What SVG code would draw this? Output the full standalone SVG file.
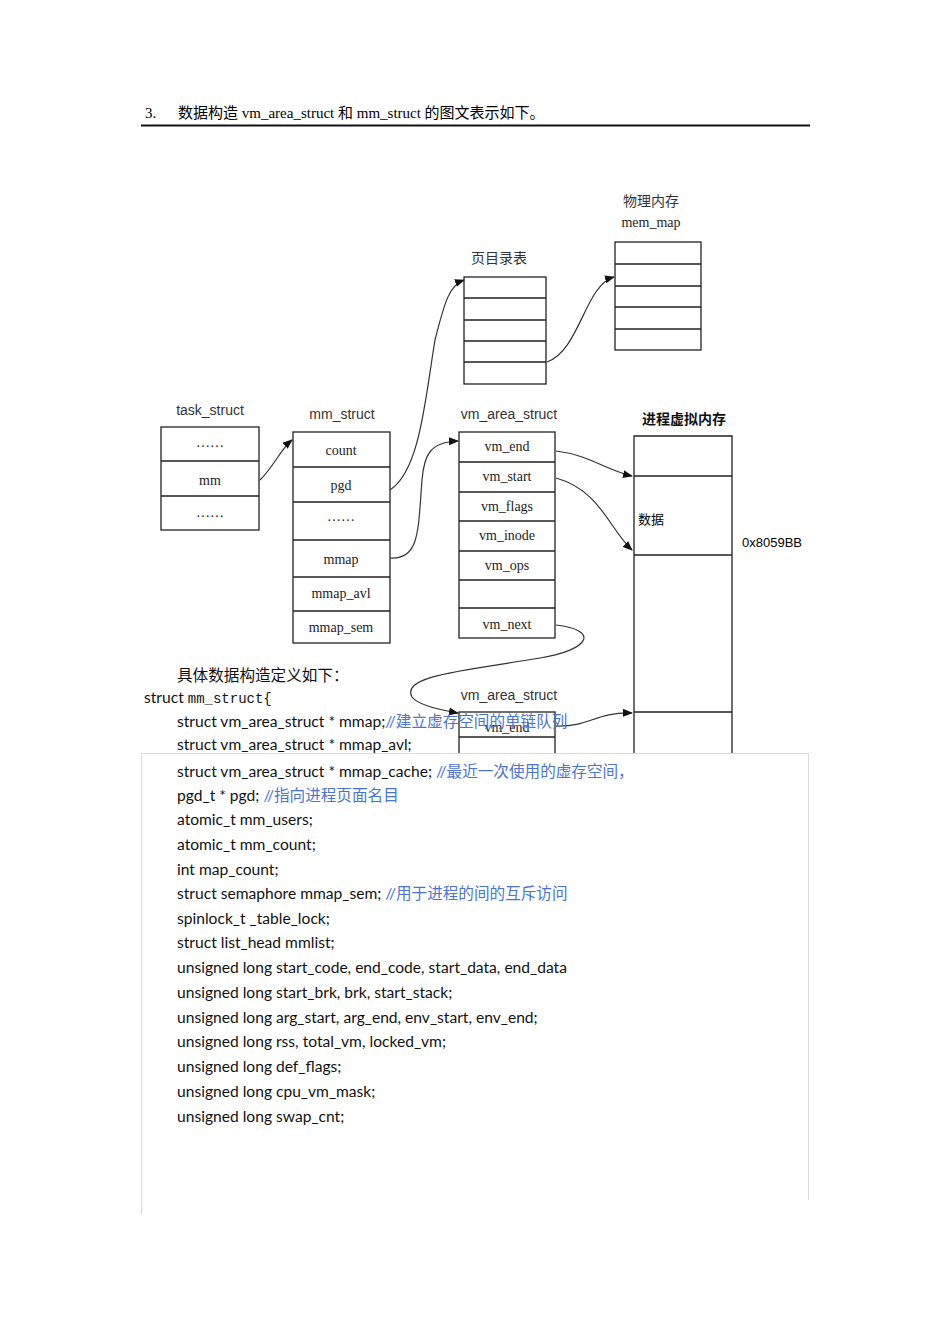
<svg xmlns="http://www.w3.org/2000/svg" width="950" height="1344" viewBox="0 0 950 1344">
<defs>
<style>
.b{fill:#fff;stroke:#222;stroke-width:1.3}
.l{stroke:#222;stroke-width:1.3}
.t{font-family:"Liberation Serif",serif;font-size:14px;fill:#222;text-anchor:middle}
.h{font-family:"Liberation Sans",sans-serif;font-size:14px;fill:#333;text-anchor:middle}
.c{fill:none;stroke:#333;stroke-width:1.2}
.x{font-family:Lato,"Noto Sans CJK SC",sans-serif;font-size:15.6px;fill:#111}
.cm{fill:#4a74d0}
</style>
<marker id="a" markerWidth="10" markerHeight="8" refX="9" refY="4" orient="auto" markerUnits="userSpaceOnUse"><path d="M0,0L10,4L0,8z" fill="#111"/></marker>
</defs>
<g style="font-family:'Liberation Serif','Noto Sans CJK SC',serif;font-size:15px">
<text x="145" y="118">3.</text>
<text x="178" y="118">数据构造 vm_area_struct  和  mm_struct  的图文表示如下。</text>
</g>
<line x1="141" y1="125.5" x2="810" y2="125.5" stroke="#111" stroke-width="2"/>
<g id="phys"><text class="h" x="651" y="206" style="font-family:'Noto Sans CJK SC',sans-serif">物理内存</text><text class="t" x="651" y="227">mem_map</text>
<rect class="b" x="615" y="242" width="86" height="108"/><path class="l" d="M615 264H701M615 286H701M615 307H701M615 329H701"/></g>
<g id="pgdir"><text class="h" x="499" y="263" style="font-family:'Noto Sans CJK SC',sans-serif">页目录表</text>
<rect class="b" x="464" y="277" width="82" height="107"/><path class="l" d="M464 298H546M464 320H546M464 341H546M464 362H546"/></g>
<g id="task"><text class="h" x="210" y="415">task_struct</text><rect class="b" x="161" y="427" width="98" height="103"/><path class="l" d="M161 461H259M161 496H259"/>
<text class="t" x="210" y="447">……</text><text class="t" x="210" y="485">mm</text><text class="t" x="210" y="517">……</text></g>
<g id="mm"><text class="h" x="342" y="419">mm_struct</text><rect class="b" x="293" y="432" width="97" height="211"/><path class="l" d="M293 467H390M293 502H390M293 540H390M293 577H390M293 611H390"/>
<text class="t" x="341" y="455">count</text><text class="t" x="341" y="490">pgd</text><text class="t" x="341" y="521">……</text><text class="t" x="341" y="564">mmap</text><text class="t" x="341" y="598">mmap_avl</text><text class="t" x="341" y="632">mmap_sem</text></g>
<g id="vma1"><text class="h" x="509" y="419">vm_area_struct</text><rect class="b" x="459" y="432" width="96" height="206"/><path class="l" d="M459 462H555M459 492H555M459 521H555M459 551H555M459 580H555M459 608H555"/>
<text class="t" x="507" y="451">vm_end</text><text class="t" x="507" y="481">vm_start</text><text class="t" x="507" y="511">vm_flags</text><text class="t" x="507" y="540">vm_inode</text><text class="t" x="507" y="570">vm_ops</text><text class="t" x="507" y="629">vm_next</text></g>
<g id="pvm"><text class="h" x="684" y="424" style="font-family:'Noto Sans CJK SC',sans-serif;font-weight:bold;fill:#111">进程虚拟内存</text>
<path class="l" d="M634 760V436H732V760M634 476H732M634 555H732M634 712H732" fill="none"/>
<text x="638" y="524" style="font-family:'Noto Sans CJK SC',sans-serif;font-size:13px">数据</text>
<text x="742" y="547" style="font-family:'Liberation Sans',sans-serif;font-size:13px">0x8059BB</text></g>
<g id="vma2"><text class="h" x="509" y="700">vm_area_struct</text><rect class="b" x="459" y="712" width="96" height="60"/><line class="l" x1="459" y1="737" x2="555" y2="737"/><text class="t" x="507" y="732">vm_end</text></g>
<g id="connectors">
<path class="c" d="M260 480C275 465 280 450 292 440" marker-end="url(#a)"/>
<path class="c" d="M390 490C420 470 425 400 435 340C445 300 450 285 464 280" marker-end="url(#a)"/>
<path class="c" d="M547 362C580 350 585 285 614 277" marker-end="url(#a)"/>
<path class="c" d="M390 558C420 560 418 530 422 480C424 455 430 442 458 441" marker-end="url(#a)"/>
<path class="c" d="M556 451C590 455 605 470 632 476" marker-end="url(#a)"/>
<path class="c" d="M556 478C600 490 610 530 632 550" marker-end="url(#a)"/>
<path class="c" d="M556 625C600 630 590 650 540 658C470 670 400 675 412 697C418 705 440 710 458 713" marker-end="url(#a)"/>
<path class="c" d="M556 726C590 727 595 712 632 713" marker-end="url(#a)"/>
</g>
<g class="x">
<text x="177" y="681" style="font-family:'Liberation Serif','Noto Sans CJK SC',serif">具体数据构造定义如下：</text>
<text x="144" y="703">struct <tspan style="font-family:'Liberation Mono',monospace;font-size:14px">mm_struct{</tspan></text>
<text x="177" y="727">struct vm_area_struct  *  mmap;<tspan class="cm">//建立虚存空间的单链队列</tspan></text>
<text x="177" y="750">struct vm_area_struct * mmap_avl;</text>
</g>
<rect x="141.5" y="753.5" width="667" height="460" fill="#fff" stroke="#ddd"/>
<rect x="142" y="1200" width="667" height="20" fill="#fff"/>
<g class="x">
<text x="177" y="777">struct vm_area_struct  *  mmap_cache; <tspan class="cm">//最近一次使用的虚存空间，</tspan></text>
<text x="177" y="801">pgd_t * pgd; <tspan class="cm">//指向进程页面名目</tspan></text>
<text x="177" y="825">atomic_t   mm_users;</text>
<text x="177" y="850">atomic_t  mm_count;</text>
<text x="177" y="875">int map_count;</text>
<text x="177" y="899">struct semaphore mmap_sem; <tspan class="cm">//用于进程的间的互斥访问</tspan></text>
<text x="177" y="924">spinlock_t _table_lock;</text>
<text x="177" y="948">struct list_head mmlist;</text>
<text x="177" y="973">unsigned long start_code, end_code, start_data, end_data</text>
<text x="177" y="998">unsigned long start_brk, brk, start_stack;</text>
<text x="177" y="1023">unsigned long arg_start, arg_end, env_start, env_end;</text>
<text x="177" y="1047">unsigned long rss, total_vm, locked_vm;</text>
<text x="177" y="1072">unsigned long def_flags;</text>
<text x="177" y="1097">unsigned long cpu_vm_mask;</text>
<text x="177" y="1122">unsigned long swap_cnt;</text>
</g>
</svg>
